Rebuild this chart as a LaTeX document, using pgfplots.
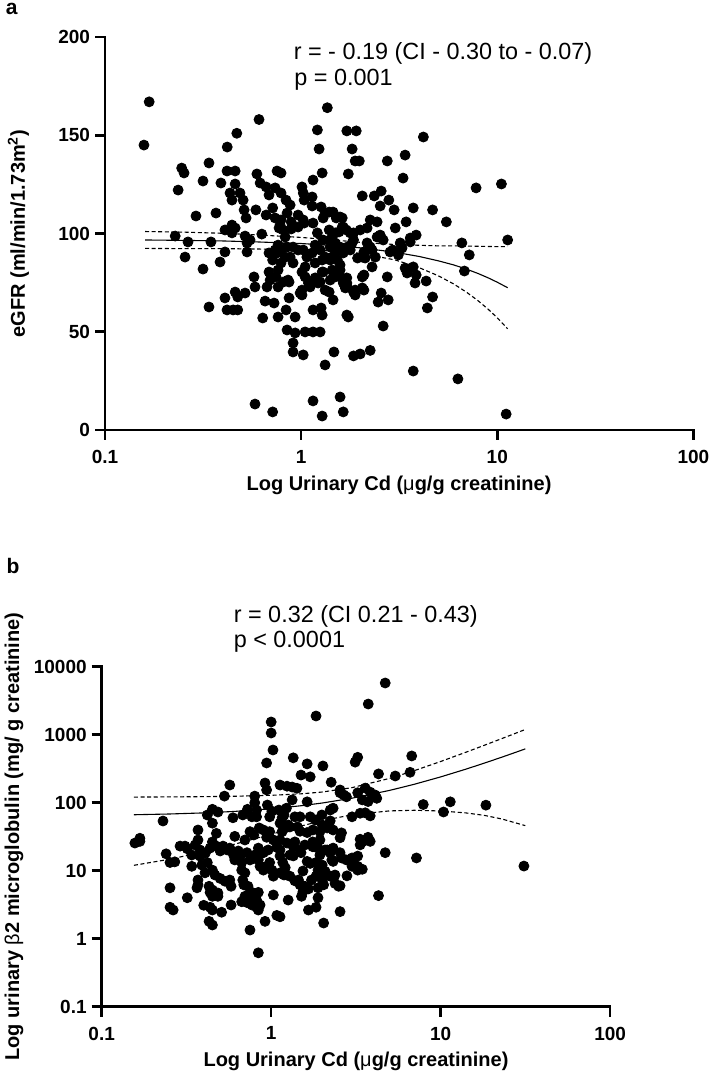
\documentclass[border=0pt]{standalone}
\usepackage{pgfplots}
\pgfplotsset{compat=1.18}
\usepackage{fontspec}
\setmainfont{Liberation Sans}

\pgfplotsset{
  gp/.style={
    scale only axis, clip=false,
    axis lines=left,
    axis line style={-, line width=1.3pt, line cap=rect},
    tick align=outside, major tick length=5pt,
    tick style={line width=1.3pt, black},
    xminorticks=false, yminorticks=false,
    tick label style={font=\bfseries\fontsize{9.5}{11}\selectfont},
    xticklabel style={yshift=-1.5pt},
    yticklabel style={xshift=1pt},
  },
  pts/.style={only marks, mark=*, mark size=2.5pt, mark options={fill=black, draw=black}},
  fit/.style={black, line width=0.55pt},
  ci/.style={black, line width=0.55pt, dash pattern=on 2pt off 1.3pt},
}

\begin{document}
\begin{tikzpicture}
\useasboundingbox (0,0) rectangle (356pt,538.5pt);

% ---------------- panel a ----------------
\begin{axis}[gp,
  at={(52.5pt,323.5pt)}, anchor=south west,
  width=294.2pt, height=196.5pt,
  xmode=log, xmin=0.1, xmax=100, ymin=0, ymax=200,
  xtick={0.1,1,10,100}, xticklabels={0.1,1,10,100},
  ytick={0,50,100,150,200}, yticklabels={0,50,100,150,200},
]
\addplot[pts] table {
0.168 167
0.158 145
0.61 158
1.36 164
0.47 151
0.42 144
1.21 152.7
1.235 143
0.339 135.9
0.246 133.3
0.253 130.8
0.236 122.1
0.316 126.7
0.39 125.7
0.419 131.8
0.461 131.8
0.461 125.2
0.595 130.3
0.618 125.7
0.754 131.8
0.79 130.8
0.291 108.9
0.368 110.4
0.434 120.6
0.444 117.0
0.488 120.6
0.506 117.0
0.512 112.0
0.524 107.9
0.588 112.0
0.663 109.4
0.663 123.7
0.737 123.2
0.79 120.6
0.838 117.0
0.879 114.5
0.848 110.4
0.79 106.9
0.772 102.8
0.89 102.3
0.965 103.3
1.036 105.3
1.01 123.7
1.025 120.6
1.036 117.0
1.138 118.6
1.138 114.0
1.265 113.5
1.295 107.9
1.325 110.4
1.15 127.2
1.28 130.8
1.455 110.9
1.51 107.9
1.62 103.3
1.70 101.8
1.21 100.3
1.85 100.3
1.71 152.2
1.91 152.2
1.82 143.0
1.886 136.9
1.98 136.9
1.74 130.3
2.75 136.9
3.39 139.9
4.2 149.1
3.31 128.2
7.8 123.2
10.5 125.2
2.05 119.1
2.36 119.1
2.56 121.6
2.8 117.0
2.53 114.0
2.98 112.0
3.73 113.0
4.68 112.0
5.5 105.9
3.43 105.9
3.02 102.8
2.25 106.9
2.44 105.9
2.17 102.8
1.58 108.4
1.64 103.3
1.78 100.3
3.86 99.2
3.6 97.7
2.53 99.2
2.0 101.8
11.3 96.7
6.6 95.2
7.2 89.1
6.8 80.9
1.85 96.7
2.17 95.2
2.44 98.2
2.62 96.7
2.84 90.6
3.13 89.1
3.2 95.2
1.94 87.5
2.12 87.5
2.39 88.0
2.3 83.0
1.58 81.4
1.71 77.4
1.68 72.3
1.886 71.2
2.05 72.3
2.05 77.9
2.75 77.9
2.56 69.7
2.78 66.2
2.47 65.1
3.39 82.4
3.73 83.0
3.47 79.9
3.86 78.9
4.34 75.8
3.81 74.8
4.68 67.7
4.4 62.1
1.71 58.5
2.62 52.9
1.85 37.7
2.0 38.7
2.25 40.5
3.73 30.0
6.3 26.0
1.58 16.8
1.64 9.2
11.1 8.1
0.228 98.7
0.265 95.7
0.347 95.7
0.256 88.0
0.316 81.9
0.386 85.5
0.409 90.6
0.339 62.6
0.444 100.3
0.518 98.7
0.63 99.7
0.53 95.2
0.53 90.6
0.686 90.1
0.754 90.1
0.829 88.0
0.716 86.5
0.79 85.0
0.91 85.0
0.575 77.9
0.686 80.4
0.695 76.3
0.745 77.9
0.81 75.3
0.868 75.3
0.582 72.8
0.67 72.8
0.763 72.8
0.461 70.2
0.475 67.7
0.518 69.7
0.409 67.2
0.45 61.1
0.475 61.1
0.419 61.1
0.655 65.6
0.728 64.6
0.868 67.2
0.637 57.0
0.763 57.5
0.838 61.1
0.848 50.9
0.932 57.5
0.932 49.4
0.91 44.3
0.91 39.7
1.025 38.2
1.048 49.9
1.15 49.9
1.25 49.9
1.15 61.1
1.265 62.1
1.28 58.5
1.01 71.2
1.01 68.7
1.111 72.8
1.22 74.8
1.39 70.2
1.455 66.2
1.325 33.1
1.47 39.7
1.886 68.7
1.71 74.8
1.58 77.9
1.455 80.4
1.295 80.4
0.582 13.2
0.716 9.2
1.15 14.8
1.28 7.1
0.686 119.6
1.39 110.9
0.716 113.0
0.737 107.9
0.781 104.3
0.89 105.9
0.965 109.4
1.025 106.9
1.15 105.3
1.39 101.8
1.49 100.3
0.444 104.3
0.461 102.8
0.409 101.8
0.549 96.7
0.81 101.8
0.829 98.2
0.763 94.1
0.737 91.6
0.79 91.6
0.71 89.1
0.848 93.1
0.879 88.0
0.91 93.1
0.965 91.6
1.025 91.6
1.07 88.0
1.138 90.1
1.25 91.6
1.325 88.0
1.28 86.5
1.178 85.0
1.455 88.0
1.49 95.2
1.44 98.2
1.295 96.7
1.178 94.1
1.048 83.0
1.01 80.4
1.048 77.9
1.09 74.8
0.988 69.7
0.763 81.4
0.858 76.3
1.178 77.4
1.25 75.3
1.325 71.2
1.28 80.4
1.44 81.4
1.406 76.3
1.62 107.9
1.56 100.8
1.406 96.7
2.56 97.7
3.6 95.7
3.27 92.6
2.93 91.6
2.25 93.1
2.3 91.6
2.09 90.6
2.05 88.0
1.406 93.1
1.53 92.6
1.58 93.1
1.49 90.1
1.64 90.1
1.72 93.1
1.78 91.6
1.82 95.2
1.406 86.5
1.53 86.5
1.58 84.0
1.56 80.9
1.49 77.9
1.64 74.8
1.72 72.8
1.85 70.2
2.09 78.9
2.09 71.2
1.74 57.5
};
\addplot[fit] table {
0.16 96.7
0.25 96.5
0.4 96.2
0.6 95.7
1 94.9
1.5 93.8
2 92.7
3 90.5
4 88.3
5 86.1
6 84.0
7 81.8
8 79.6
9 77.4
10 75.2
11.3 72.4
};
\addplot[ci] table {
0.16 101.0
0.25 100.7
0.4 100.1
0.6 99.3
1 98.0
1.5 96.6
2 95.5
3 94.4
4 94.0
5 93.7
6 93.7
7 93.6
8 93.5
9 93.4
10 93.3
11.3 93.3
};
\addplot[ci] table {
0.16 92.4
0.25 92.3
0.4 92.3
0.6 92.1
1 91.8
1.5 91.0
2 89.9
3 86.6
4 82.6
5 78.5
6 74.3
7 70.0
8 65.7
9 61.4
10 57.1
11.3 51.5
};
\end{axis}

% ---------------- panel b ----------------
\begin{axis}[gp,
  at={(50.85pt,35.15pt)}, anchor=south west,
  width=254.2pt, height=170pt,
  xmode=log, ymode=log, xmin=0.1, xmax=100, ymin=0.1, ymax=10000,
  xtick={0.1,1,10,100}, xticklabels={0.1,1,10,100},
  ytick={0.1,1,10,100,1000,10000}, yticklabels={0.1,1,10,100,1000,10000},
]
\addplot[pts] table {
4.71 5760
3.74 2826
1.84 1884
1.0 1538
1.0 1059
1.025 596
1.35 457
1.63 372
2.02 347
0.94 384
0.92 195
0.94 154
1.128 182
1.33 170
1.42 163
1.50 255
1.70 240
2.26 200
3.13 395
3.24 465
2.55 154
2.78 122
3.24 140
0.23 53.8
0.42 65.9
0.45 80
0.485 73
0.595 60
0.725 80
0.80 100
0.82 62
0.57 182
0.53 125
0.168 30
0.37 39.7
0.475 35.4
0.61 32
1.11 78
1.23 83
1.33 110
1.16 60
1.48 62
1.63 103
1.70 62
1.99 66
2.23 78
2.32 83
3.0 62
3.35 70
6.75 487
4.3 265
5.4 247
6.6 280
2.55 140
3.59 164
3.84 143
4.1 130
3.45 110
3.73 104
4.2 116
3.59 71
3.84 64
7.9 94
11.4 103
10.4 73
18.5 92
2.6 36
3.35 29
3.73 31
3.84 27
3.35 24
2.55 18.4
2.78 14.4
3.0 13.7
3.24 16.4
4.71 18.4
7.2 15.4
3.45 10.5
2.8 8.4
2.55 6.0
2.55 2.5
4.3 4.3
31 11.7
1.24 175
2.68 130
1.19 66
1.38 62
1.82 55.7
2.23 54
2.0 47
1.128 50
1.26 47
1.43 44
1.48 38
1.63 36.4
1.76 39.7
1.94 37.5
2.14 42.5
2.32 39.7
2.55 30.5
1.128 28.3
1.24 25.5
1.38 26.5
1.48 20.2
1.35 16.5
1.58 23.9
1.76 26.5
1.94 28.3
1.89 21.5
2.08 20.2
2.32 21.5
2.23 18.4
2.28 14.4
2.6 15.4
3.0 15.4
3.45 26.5
1.128 16.5
1.21 11.1
1.19 8.65
1.29 8.3
1.38 7.1
1.48 6.2
1.58 5.9
1.54 9.9
1.70 12.8
1.84 13.2
2.0 12.1
1.89 10.2
2.08 9.8
1.84 8.3
1.73 7.3
2.04 6.2
2.38 8.65
2.5 5.9
1.89 5.6
1.26 3.7
1.51 4.2
1.54 4.9
1.89 4.0
1.66 2.64
1.128 2.1
2.04 1.7
0.8 125
0.68 66
0.82 78
0.77 62
0.95 92.5
1.01 75
0.98 62
0.45 50
0.37 28.3
0.356 23.9
0.31 23
0.29 23
0.32 21
0.34 17
0.38 16.4
0.41 18.4
0.436 21.5
0.45 26.5
0.475 23
0.5 19.5
0.52 23
0.57 21.5
0.64 19.5
0.655 16.4
0.61 14.4
0.7 28.3
0.75 37.5
0.79 33.5
0.85 42.5
0.9 39.7
0.94 31
0.98 37.5
1.03 28.3
1.08 22
1.16 37.5
1.21 42.5
1.29 44
0.253 13.2
0.27 13.5
0.34 11.6
0.39 12.1
0.42 13.2
0.45 10.2
0.466 8.65
0.5 7.7
0.534 7.0
0.57 7.3
0.58 5.9
0.67 13.2
0.67 10.2
0.7 9.3
0.68 7.3
0.73 5.9
0.77 4.8
0.75 14.4
0.8 17
0.84 14.4
0.86 11.6
0.9 10.2
0.98 13.2
1.01 10.2
1.03 8.3
1.17 13.2
1.128 9.3
1.24 8.65
0.253 5.6
0.37 7.3
0.365 5.6
0.43 5.9
0.436 4.8
0.45 4.2
0.485 4.2
0.32 4.0
0.253 2.9
0.264 2.64
0.4 3.1
0.436 2.9
0.45 2.64
0.51 2.45
0.58 3.13
0.67 3.5
0.7 4.2
0.72 3.4
0.77 3.13
0.8 4.0
0.82 2.9
0.84 2.64
0.86 3.13
1.03 4.4
1.08 2.2
0.75 1.34
0.92 1.8
0.43 1.8
0.45 1.59
0.157 25.5
0.168 27
0.24 17.7
0.38 20.2
0.55 20.2
0.6 17
0.72 18.4
0.84 21.5
0.9 18.4
0.96 20.2
0.94 11.6
1.128 20.2
1.29 17
1.35 22.5
1.5 18.4
1.63 13.7
1.76 22.5
1.94 17
2.14 20.2
2.32 13.7
3.0 11.6
3.24 11.6
0.37 6.2
0.407 9.3
0.45 5.2
0.485 4.7
0.69 6.2
0.82 3.7
0.75 4.6
0.84 4.8
1.45 7.3
1.66 5.4
1.84 2.9
2.0 7.3
2.08 9.1
2.23 8.3
2.38 6.5
3.24 10.2
0.84 0.62
};
\addplot[fit] table {
0.155 66.5
0.25 68.2
0.4 70.8
0.6 74.3
1 81.4
1.5 90.2
2 98.9
3 116.5
5 151.7
7 186.8
10 239.5
14 309.8
18 380.1
23 467.9
27 538.2
31.6 619.0
};
\addplot[ci] table {
0.155 121.0
0.25 121.7
0.4 122.7
0.6 124.3
1 128.4
1.5 135.0
2 143.5
3 166.5
5 227.6
7 296.2
10 403.4
14 548.7
18 694.9
23 878.2
27 1025
31.6 1194
};
\addplot[ci] table {
0.155 12.0
0.25 14.7
0.4 18.9
0.6 24.3
1 34.4
1.5 45.4
2 54.3
3 66.5
5 75.8
7 77.4
10 75.6
14 70.9
18 65.3
23 57.6
27 51.4
31.6 46.0
};
\end{axis}

% ---------------- text ----------------
\node[font=\bfseries\fontsize{10.5}{12}\selectfont, anchor=center] at (5.8pt,534pt) {a};
\node[font=\bfseries\fontsize{10.5}{12}\selectfont, anchor=center] at (6.5pt,255.5pt) {b};

\node[font=\fontsize{11.7}{13}\selectfont, anchor=base west, inner sep=0pt] at (146.7pt,508.5pt) {r = - 0.19 (CI - 0.30 to - 0.07)};
\node[font=\fontsize{11.7}{13}\selectfont, anchor=base west, inner sep=0pt] at (147pt,495.5pt) {p = 0.001};

\node[font=\fontsize{11.7}{13}\selectfont, anchor=base west, inner sep=0pt] at (116.7pt,227pt) {r = 0.32 (CI 0.21 - 0.43)};
\node[font=\fontsize{11.7}{13}\selectfont, anchor=base west, inner sep=0pt] at (116.7pt,214.5pt) {p < 0.0001};

\node[font=\bfseries\fontsize{10}{12}\selectfont, anchor=center] at (199.5pt,296pt) {Log Urinary Cd ({\mdseries μ}g/g creatinine)};
\node[font=\bfseries\fontsize{10}{12}\selectfont, anchor=center, rotate=90] at (9.25pt,421.75pt) {eGFR (ml/min/1.73m\textsuperscript{2})};

\node[font=\bfseries\fontsize{10}{12}\selectfont, anchor=center] at (178pt,8pt) {Log Urinary Cd ({\mdseries μ}g/g creatinine)};
\node[font=\bfseries\fontsize{10}{12}\selectfont, anchor=center, rotate=90] at (7pt,120.2pt) {Log urinary {\mdseries β}2 microglobulin (mg/ g creatinine)};
\end{tikzpicture}
\end{document}
